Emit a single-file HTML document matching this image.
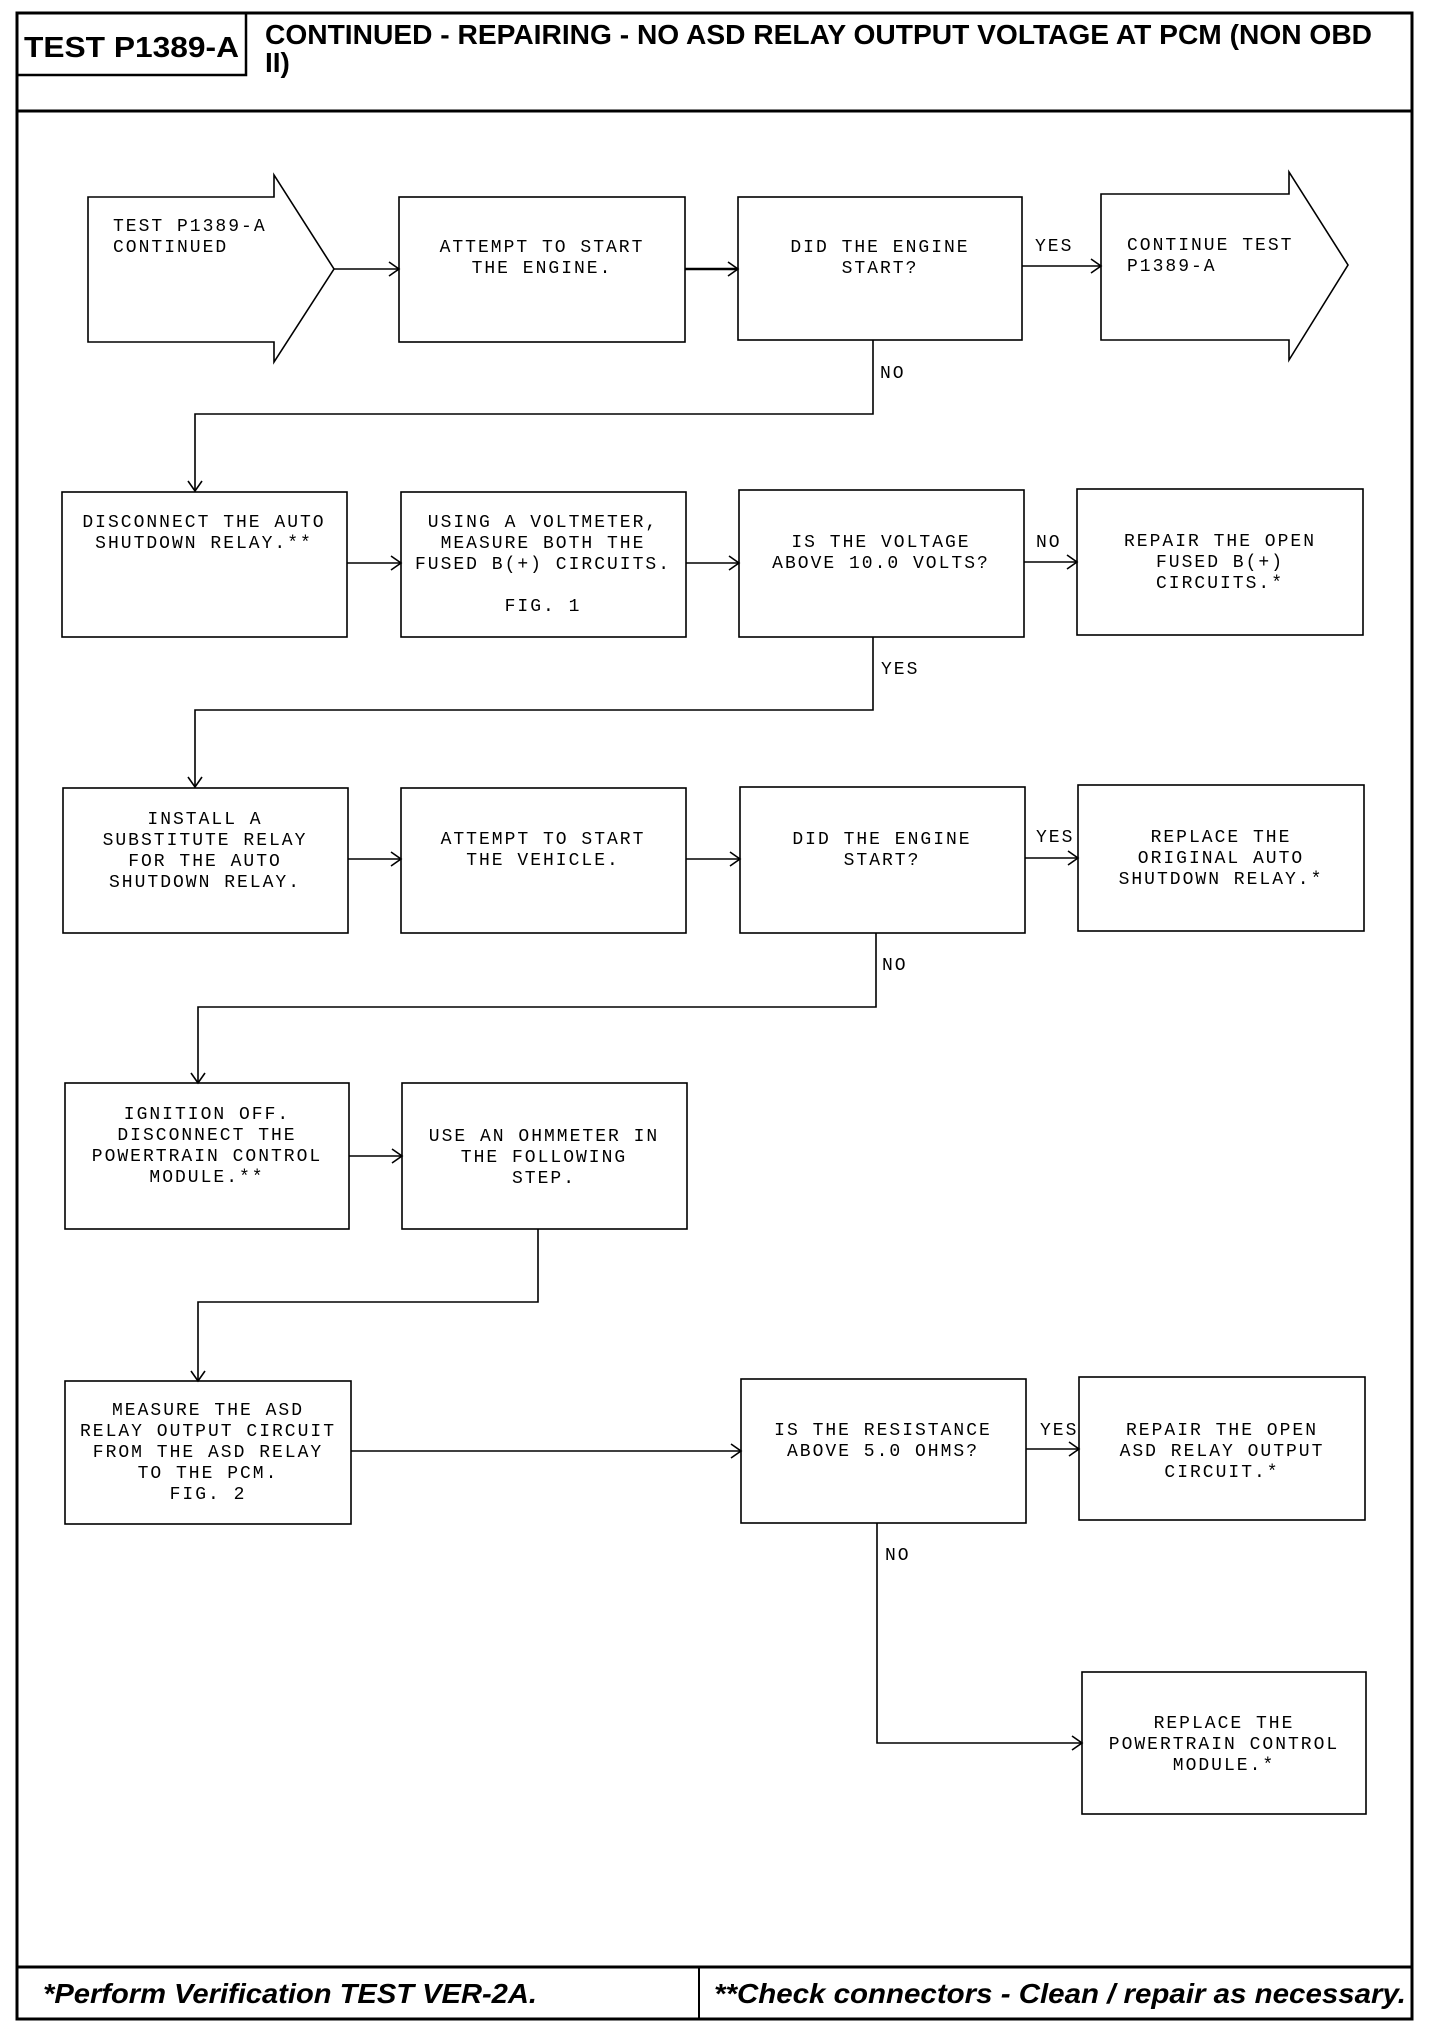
<!DOCTYPE html>
<html><head><meta charset="utf-8"><style>
html,body{margin:0;padding:0;background:#fff}
svg{display:block}
.t{font-family:"Liberation Mono",monospace;font-size:18px;letter-spacing:2px;fill:#000}
.m{text-anchor:middle}
.b{fill:#fff;stroke:#000;stroke-width:1.6}
.l{fill:none;stroke:#000;stroke-width:1.6}
</style></head><body>
<svg width="1456" height="2034" viewBox="0 0 1456 2034" xmlns="http://www.w3.org/2000/svg">
<!-- frame -->
<rect x="17" y="13" width="1395" height="2006" fill="none" stroke="#000" stroke-width="3"/>
<line x1="17" y1="111" x2="1412" y2="111" stroke="#000" stroke-width="3"/>
<rect x="17" y="13" width="229" height="62" fill="none" stroke="#000" stroke-width="2.5"/>
<line x1="17" y1="1967" x2="1412" y2="1967" stroke="#000" stroke-width="3"/>
<line x1="699" y1="1967" x2="699" y2="2019" stroke="#000" stroke-width="2"/>
<text x="24" y="57" font-family="Liberation Sans,sans-serif" font-weight="bold" font-size="29" textLength="215" lengthAdjust="spacingAndGlyphs">TEST P1389-A</text>
<text x="265" y="44" font-family="Liberation Sans,sans-serif" font-weight="bold" font-size="28" textLength="1107" lengthAdjust="spacingAndGlyphs">CONTINUED - REPAIRING - NO ASD RELAY OUTPUT VOLTAGE AT PCM (NON OBD</text>
<text x="265" y="72" font-family="Liberation Sans,sans-serif" font-weight="bold" font-size="28">II)</text>
<text x="43" y="2003" font-family="Liberation Sans,sans-serif" font-weight="bold" font-style="italic" font-size="28" textLength="494" lengthAdjust="spacingAndGlyphs">*Perform Verification TEST VER-2A.</text>
<text x="714" y="2003" font-family="Liberation Sans,sans-serif" font-weight="bold" font-style="italic" font-size="28" textLength="692" lengthAdjust="spacingAndGlyphs">**Check connectors - Clean / repair as necessary.</text>

<!-- row1 -->
<polygon class="b" points="88,197 274,197 274,175 334,269 274,362 274,342 88,342"/>
<rect class="b" x="399" y="197" width="286" height="145"/>
<rect class="b" x="738" y="197" width="284" height="143"/>
<polygon class="b" points="1101,194 1289,194 1289,172 1348,265 1289,360 1289,340 1101,340"/>
<text class="t" x="113" y="231">TEST P1389-A</text>
<text class="t" x="113" y="252">CONTINUED</text>
<text class="t m" x="542" y="252">ATTEMPT TO START</text>
<text class="t m" x="542" y="273">THE ENGINE.</text>
<text class="t m" x="880" y="252">DID THE ENGINE</text>
<text class="t m" x="880" y="273">START?</text>
<text class="t" x="1127" y="250">CONTINUE TEST</text>
<text class="t" x="1127" y="271">P1389-A</text>
<text class="t" x="1035" y="251">YES</text>
<text class="t" x="880" y="378">NO</text>

<!-- row2 -->
<rect class="b" x="62" y="492" width="285" height="145"/>
<rect class="b" x="401" y="492" width="285" height="145"/>
<rect class="b" x="739" y="490" width="285" height="147"/>
<rect class="b" x="1077" y="489" width="286" height="146"/>
<text class="t m" x="204" y="527">DISCONNECT THE AUTO</text>
<text class="t m" x="204" y="548">SHUTDOWN RELAY.**</text>
<text class="t m" x="543" y="527">USING A VOLTMETER,</text>
<text class="t m" x="543" y="548">MEASURE BOTH THE</text>
<text class="t m" x="543" y="569">FUSED B(+) CIRCUITS.</text>
<text class="t m" x="543" y="611">FIG. 1</text>
<text class="t m" x="881" y="547">IS THE VOLTAGE</text>
<text class="t m" x="881" y="568">ABOVE 10.0 VOLTS?</text>
<text class="t m" x="1220" y="546">REPAIR THE OPEN</text>
<text class="t m" x="1220" y="567">FUSED B(+)</text>
<text class="t m" x="1220" y="588">CIRCUITS.*</text>
<text class="t" x="1036" y="547">NO</text>
<text class="t" x="881" y="674">YES</text>

<!-- row3 -->
<rect class="b" x="63" y="788" width="285" height="145"/>
<rect class="b" x="401" y="788" width="285" height="145"/>
<rect class="b" x="740" y="787" width="285" height="146"/>
<rect class="b" x="1078" y="785" width="286" height="146"/>
<text class="t m" x="205" y="824">INSTALL A</text>
<text class="t m" x="205" y="845">SUBSTITUTE RELAY</text>
<text class="t m" x="205" y="866">FOR THE AUTO</text>
<text class="t m" x="205" y="887">SHUTDOWN RELAY.</text>
<text class="t m" x="543" y="844">ATTEMPT TO START</text>
<text class="t m" x="543" y="865">THE VEHICLE.</text>
<text class="t m" x="882" y="844">DID THE ENGINE</text>
<text class="t m" x="882" y="865">START?</text>
<text class="t m" x="1221" y="842">REPLACE THE</text>
<text class="t m" x="1221" y="863">ORIGINAL AUTO</text>
<text class="t m" x="1221" y="884">SHUTDOWN RELAY.*</text>
<text class="t" x="1036" y="842">YES</text>
<text class="t" x="882" y="970">NO</text>

<!-- row4 -->
<rect class="b" x="65" y="1083" width="284" height="146"/>
<rect class="b" x="402" y="1083" width="285" height="146"/>
<text class="t m" x="207" y="1119">IGNITION OFF.</text>
<text class="t m" x="207" y="1140">DISCONNECT THE</text>
<text class="t m" x="207" y="1161">POWERTRAIN CONTROL</text>
<text class="t m" x="207" y="1182">MODULE.**</text>
<text class="t m" x="544" y="1141">USE AN OHMMETER IN</text>
<text class="t m" x="544" y="1162">THE FOLLOWING</text>
<text class="t m" x="544" y="1183">STEP.</text>

<!-- row5 -->
<rect class="b" x="65" y="1381" width="286" height="143"/>
<rect class="b" x="741" y="1379" width="285" height="144"/>
<rect class="b" x="1079" y="1377" width="286" height="143"/>
<rect class="b" x="1082" y="1672" width="284" height="142"/>
<text class="t m" x="208" y="1415">MEASURE THE ASD</text>
<text class="t m" x="208" y="1436">RELAY OUTPUT CIRCUIT</text>
<text class="t m" x="208" y="1457">FROM THE ASD RELAY</text>
<text class="t m" x="208" y="1478">TO THE PCM.</text>
<text class="t m" x="208" y="1499">FIG. 2</text>
<text class="t m" x="883" y="1435">IS THE RESISTANCE</text>
<text class="t m" x="883" y="1456">ABOVE 5.0 OHMS?</text>
<text class="t m" x="1222" y="1435">REPAIR THE OPEN</text>
<text class="t m" x="1222" y="1456">ASD RELAY OUTPUT</text>
<text class="t m" x="1222" y="1477">CIRCUIT.*</text>
<text class="t m" x="1224" y="1728">REPLACE THE</text>
<text class="t m" x="1224" y="1749">POWERTRAIN CONTROL</text>
<text class="t m" x="1224" y="1770">MODULE.*</text>
<text class="t" x="1040" y="1435">YES</text>
<text class="t" x="885" y="1560">NO</text>

<!-- connectors -->
<g class="l">
<line x1="334" y1="269" x2="399" y2="269"/><polyline points="389,262 399,269 389,276"/>
<line x1="685" y1="269" x2="738" y2="269" stroke-width="2.5"/><polyline points="728,262 738,269 728,276"/>
<line x1="1022" y1="266" x2="1101" y2="266"/><polyline points="1091,259 1101,266 1091,273"/>
<polyline points="873,340 873,414 195,414 195,491"/><polyline points="188,481 195,491 202,481"/>

<line x1="347" y1="563" x2="401" y2="563"/><polyline points="391,556 401,563 391,570"/>
<line x1="686" y1="563" x2="739" y2="563"/><polyline points="729,556 739,563 729,570"/>
<line x1="1024" y1="562" x2="1077" y2="562"/><polyline points="1067,555 1077,562 1067,569"/>
<polyline points="873,637 873,710 195,710 195,787"/><polyline points="188,777 195,787 202,777"/>

<line x1="348" y1="859" x2="401" y2="859"/><polyline points="391,852 401,859 391,866"/>
<line x1="686" y1="859" x2="740" y2="859"/><polyline points="730,852 740,859 730,866"/>
<line x1="1025" y1="858" x2="1078" y2="858"/><polyline points="1068,851 1078,858 1068,865"/>
<polyline points="876,933 876,1007 198,1007 198,1083"/><polyline points="191,1073 198,1083 205,1073"/>

<line x1="349" y1="1156" x2="402" y2="1156"/><polyline points="392,1149 402,1156 392,1163"/>
<polyline points="538,1229 538,1302 198,1302 198,1381"/><polyline points="191,1371 198,1381 205,1371"/>

<line x1="351" y1="1451" x2="741" y2="1451"/><polyline points="731,1444 741,1451 731,1458"/>
<line x1="1026" y1="1449" x2="1079" y2="1449"/><polyline points="1069,1442 1079,1449 1069,1456"/>
<polyline points="877,1523 877,1743 1082,1743"/><polyline points="1072,1736 1082,1743 1072,1750"/>
</g>
</svg>
</body></html>
